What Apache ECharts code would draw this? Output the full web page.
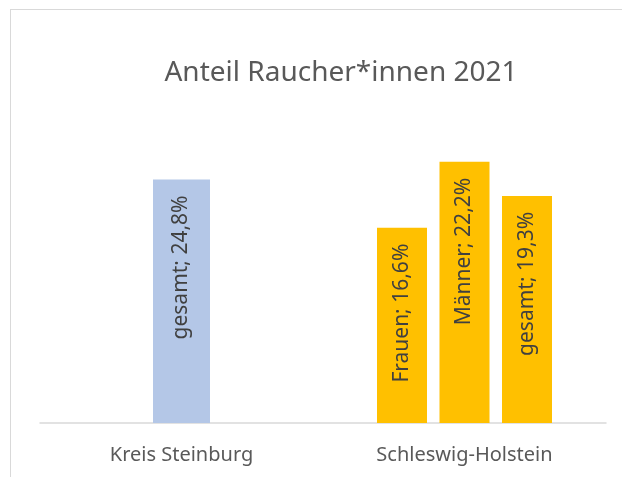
<!DOCTYPE html>
<html>
<head>
<meta charset="utf-8">
<script src="https://cdn.jsdelivr.net/npm/echarts@6/dist/echarts.min.js"></script>
<style>
    html, body {margin: 0; padding: 0; background: #fff;}
    #chart {width: 622px; height: 477px;}
</style>
</head>
<body>
<div id="chart"></div>
<script>
// regions on the x axis
const regions = ['Kreis Steinburg', 'Schleswig-Holstein'];
// bar heights (share in %)
const steinburgValues = [20.7, '-'];
const frauenValues = ['-', 16.6];
const maennerValues = ['-', 22.2];
const gesamtShValues = ['-', 19.3];
// the labels printed inside the bars
const steinburgLabels = ['gesamt; 24,8%', ''];
const frauenLabels = ['', 'Frauen; 16,6%'];
const maennerLabels = ['', 'Männer; 22,2%'];
const gesamtShLabels = ['', 'gesamt; 19,3%'];

const FONT = 'Noto Sans';

const makeLabel = texts => ({
    show: true,
    position: 'insideTop',
    distance: 16,
    rotate: 90,
    align: 'right',
    verticalAlign: 'middle',
    color: '#404040',
    fontFamily: FONT,
    fontSize: 21,
    formatter: p => texts[p.dataIndex]
});

const chart = echarts.init(document.getElementById('chart'), null, {renderer: 'canvas'});

chart.setOption({
    animation: false,
    title: {
        text: 'Anteil Raucher*innen 2021',
        left: 336,
        textAlign: 'center',
        top: 54,
        textStyle: {
            color: '#595959',
            fontFamily: FONT,
            fontWeight: 'normal',
            fontSize: 28
        }
    },
    graphic: [
        {type: 'line', shape: {x1: 10.5, y1: 9.5, x2: 10.5, y2: 477}, style: {stroke: '#d9d9d9', lineWidth: 1}},
        {type: 'line', shape: {x1: 10, y1: 9.5, x2: 622, y2: 9.5}, style: {stroke: '#d9d9d9', lineWidth: 1}}
    ],
    grid: {left: 40, right: 16, top: 70, bottom: 54},
    xAxis: [{
        type: 'category',
        data: regions,
        axisLine: {lineStyle: {color: '#d9d9d9', width: 1.5}},
        axisTick: {show: false},
        axisLabel: {
            color: '#595959',
            fontFamily: FONT,
            fontSize: 20,
            margin: 22
        }
    }, {
        // second, hidden axis so the three SH bars group on their own
        type: 'category',
        data: regions,
        show: false
    }],
    yAxis: {
        type: 'value',
        min: 0,
        max: 30,
        show: false,
        splitLine: {show: false}
    },
    series: [{
        name: 'Kreis Steinburg',
        type: 'bar',
        xAxisIndex: 0,
        barWidth: 57,
        itemStyle: {color: '#b4c7e7'},
        label: makeLabel(steinburgLabels),
        data: steinburgValues
    }, {
        name: 'Frauen',
        type: 'bar',
        xAxisIndex: 1,
        barWidth: 50,
        barGap: '25%',
        itemStyle: {color: '#ffc000'},
        label: makeLabel(frauenLabels),
        data: frauenValues
    }, {
        name: 'Männer',
        type: 'bar',
        xAxisIndex: 1,
        barWidth: 50,
        barGap: '25%',
        itemStyle: {color: '#ffc000'},
        label: makeLabel(maennerLabels),
        data: maennerValues
    }, {
        name: 'gesamt',
        type: 'bar',
        xAxisIndex: 1,
        barWidth: 50,
        barGap: '25%',
        itemStyle: {color: '#ffc000'},
        label: makeLabel(gesamtShLabels),
        data: gesamtShValues
    }]
});
</script>
</body>
</html>
